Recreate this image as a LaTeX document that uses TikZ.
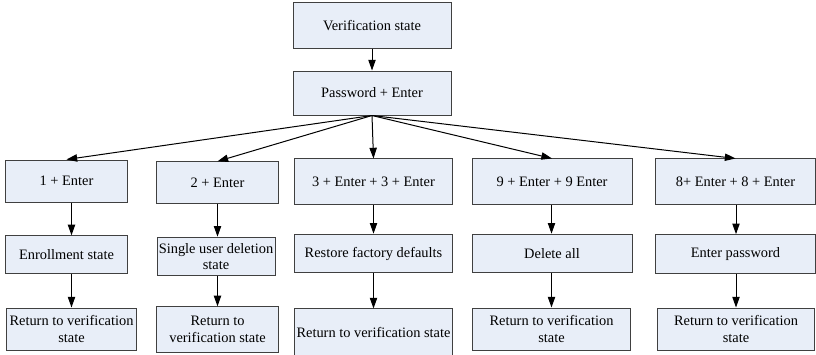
\documentclass[tikz,border=0pt]{standalone}
\usepackage{fontspec}
\setmainfont{Liberation Serif}
\usetikzlibrary{arrows.meta}

\definecolor{boxfill}{HTML}{E8EEF8}
\definecolor{boxline}{HTML}{404040}

\tikzset{
  stbox/.style={draw=boxline, fill=boxfill, line width=0.75pt, inner sep=1pt,
    align=center, font=\rmfamily\fontsize{10.8}{12.6}\selectfont},
  go/.style={-{Triangle[length=8pt,width=5.5pt]}, line width=0.75pt}
}

\begin{document}
\begin{tikzpicture}[x=0.75pt, y=-0.75pt]

\useasboundingbox (0,0) rectangle (816,354);

\node [stbox, minimum width=118.5pt, minimum height=33.8pt] (top) at (372,25.5) {Verification state};
\node [stbox, minimum width=118.5pt, minimum height=33pt] (pw) at (372,93) {Password + Enter};

% first row
\node [stbox, minimum width=92pt, minimum height=31.5pt] (b1) at (66.5,181) {1 + Enter};
\node [stbox, minimum width=91pt, minimum height=31pt] (b2) at (217.5,182.5) {2 + Enter};
\node [stbox, minimum width=119pt, minimum height=33.8pt] (b3) at (373.5,181.5) {3 + Enter + 3 + Enter};
\node [stbox, minimum width=120pt, minimum height=33.8pt] (b4) at (552,181.5) {9 + Enter + 9 Enter};
\node [stbox, minimum width=120pt, minimum height=33.8pt] (b5) at (735.5,181.5) {8+ Enter + 8 + Enter};

% second row
\node [stbox, minimum width=92pt, minimum height=28pt] (c1) at (66.5,254.5) {Enrollment state};
\node [stbox, minimum width=88.5pt, minimum height=29pt] (c2) at (216,256.5) {Single user deletion\\state};
\node [stbox, minimum width=119pt, minimum height=29pt] (c3) at (373.5,253.5) {Restore factory defaults};
\node [stbox, minimum width=120pt, minimum height=29pt] (c4) at (552,253.5) {Delete all};
\node [stbox, minimum width=120pt, minimum height=29pt] (c5) at (735.5,254) {Enter password};

% third row
\node [stbox, minimum width=96.8pt, minimum height=31.5pt] (d1) at (71.5,329) {Return to verification\\state};
\node [stbox, minimum width=91pt, minimum height=34pt] (d2) at (217.5,329.5) {Return to\\verification state};
\node [stbox, minimum width=119pt, minimum height=35.3pt] (d3) at (373.5,332.5) {Return to verification state};
\node [stbox, minimum width=117.8pt, minimum height=31.5pt] (d4) at (551.5,329) {Return to verification\\state};
\node [stbox, minimum width=117.8pt, minimum height=31.5pt] (d5) at (736,329) {Return to verification\\state};

\draw [go] (top) -- (pw);

\foreach \i in {1,...,5}
    \draw [go] (pw.south) -- (b\i.north);

\foreach \i in {1,...,5}
    \draw [go] (b\i.south -| d\i) -- (c\i.north -| d\i);

\foreach \i in {1,...,5}
    \draw [go] (c\i.south -| d\i) -- (d\i.north);

\end{tikzpicture}
\end{document}
